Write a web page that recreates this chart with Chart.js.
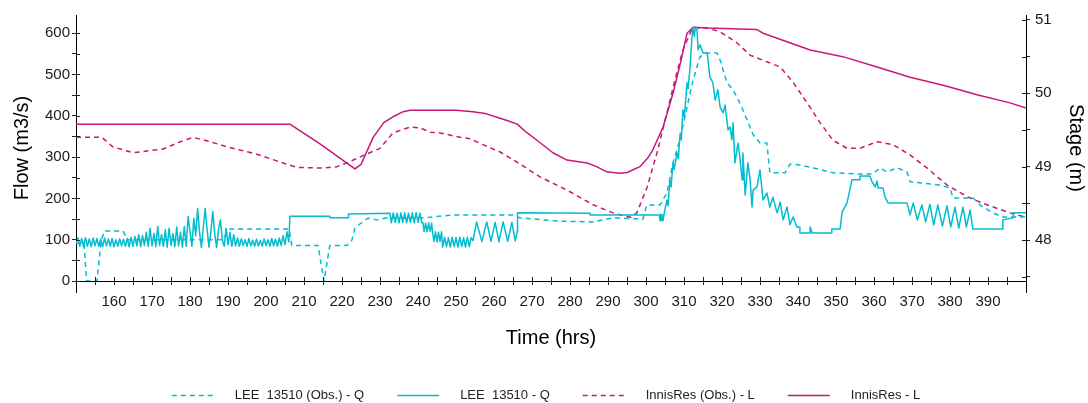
<!DOCTYPE html>
<html>
<head>
<meta charset="utf-8">
<script src="https://cdn.jsdelivr.net/npm/chart.js@4.4.1/dist/chart.umd.min.js"></script>
<style>
html,body{margin:0;padding:0;background:#fff;}
canvas{display:block;}
</style>
</head>
<body>
<canvas id="c" width="1088" height="403"></canvas>
<script>
// ---------- DATA ----------
const seriesNames = ['LEE  13510 (Obs.) - Q', 'LEE  13510 - Q', 'InnisRes (Obs.) - L', 'InnisRes - L'];

// LEE 13510 observed flow [time (hrs), flow (m3/s)]
const leeObsFlow = [
  [150,92],[152.1,92],[152.8,0],[155.5,0],[156.6,95],[157.4,121],[162.4,121],[163.5,100],[188.5,100],
  [190.5,126],[206.1,126],[206.8,86],[213.7,86],[214.7,30],[215.3,0],[215.8,30],[216.8,86],[221.3,86],
  [222.6,99],[223.4,128],[224.7,138],[226.8,152],[229.2,148],[231.8,153],[241.3,153],[249.2,160],
  [265.0,160],[266.8,153],[276.6,145],[286.1,143],[291.3,153],[299.2,150],[300.2,184],[303.7,184],
  [305.5,213],[307.1,286],[308.9,341],[310.8,421],[312.4,487],[314.2,543],[316.1,552],[318.7,552],
  [319.5,535],[321.3,480],[322.9,463],[324.7,431],[326.6,390],[328.2,354],[330.0,334],[331.8,334],
  [332.6,262],[336.6,262],[337.9,283],[340.5,281],[343.9,274],[349.2,262],[356.3,259],[359.7,259],
  [361.6,274],[363.4,264],[366.1,274],[368.7,264],[369.5,240],[372.9,237],[377.4,232],[380.0,225],
  [380.8,201],[386.1,201],[387.9,184],[391.3,165],[393.9,155],[400,155]
];

// LEE 13510 simulated flow [time (hrs), flow (m3/s)]
const leeSimFlow = [
  [150,92],[150.5,104],[151,84],[151.5,103],[152,83],[152.5,105],[153,84],[153.5,102],[154,83],[154.5,104],
  [155,85],[155.5,103],[156,84],[156.5,101],[157,83],[157.5,104],[158,85],[158.5,102],[159,84],[159.5,103],
  [160,83],[160.5,100],[161,84],[161.5,102],[162,85],[162.5,101],[163,84],[163.5,103],[164,83],[164.5,106],
  [165,84],[165.5,108],[166,85],[166.5,112],[167,83],[167.5,110],[168,86],[168.5,118],[169,84],[169.5,128],
  [170,85],[170.5,115],[171,83],[171.5,132],[172,86],[172.5,112],[173,84],[173.5,124],[174,82],[174.5,128],
  [175,86],[175.5,115],[176,83],[176.5,131],[177,85],[177.5,118],[178,82],[178.5,132],[179,84],[179.5,156],
  [180,120],[180.5,84],[181,152],[181.5,110],[182,176],[182.5,120],[183,81],[183.5,130],[184,176],[184.5,125],
  [185,82],[185.5,120],[186,168],[186.5,115],[187,81],[187.5,125],[188,148],[188.5,100],[189,84],[189.5,128],
  [190,88],[190.5,118],[191,84],[191.5,112],[192,85],[192.5,104],[193,84],[193.5,102],[194,86],[194.5,100],
  [195,84],[195.5,103],[196,85],[196.5,99],[197,84],[197.5,101],[198,85],[198.5,98],[199,84],[199.5,102],
  [200,86],[200.5,100],[201,84],[201.5,103],[202,85],[202.5,101],[203,84],[203.5,104],[204,86],[204.5,110],
  [205,88],[205.5,119],[206,95],[206.3,157],[216.8,157],[216.8,153],[221.6,153],[221.7,162],[232.6,164],
  [233,141],[233.5,165],[234,142],[234.5,164],[235,141],[235.5,165],[236,142],[236.5,165],[237,141],[237.5,164],
  [238,142],[238.5,165],[239,141],[239.5,165],[240,142],[240.5,164],[241,141],
  [241.3,141],[241.6,120],[242,140],[242.4,119],[242.8,141],[243.2,120],[243.6,140],
  [243.8,119],[244.2,96],[244.6,119],[245,95],[245.4,118],[245.8,96],[246.2,119],
  [246.5,82],[247,106],[247.5,83],[248,105],[248.5,82],[249,106],[249.5,83],[250,105],[250.5,82],[251,106],
  [251.5,83],[252,105],[252.5,82],[253,106],[253.5,83],[254,105],
  [254.5,98],[255.4,143],[256.8,96],[258.1,143],[259.2,96],[260.3,142],[261.3,95],[262.4,143],[263.6,96],
  [264.7,142],[265.6,97],[266.1,120],[266.2,165],[285.3,164],[285.3,160],[303.5,160],
  [303.7,146],[303.9,162],[304.1,147],[304.3,160],[304.5,146],[304.8,165],
  [305.5,196],[305.8,182],[306.3,245],[306.6,228],[307.1,286],[307.4,270],[308.2,310],[308.5,296],[309,358],
  [309.3,342],[309.7,414],[310.1,398],[310.8,480],[311.1,466],[311.6,518],[312.1,591],[312.4,613],[312.7,592],
  [313,615],[313.4,613],[313.7,560],[314.2,572],[315,552],[316.1,552],[316.8,494],[317.6,480],[318.2,438],
  [318.9,463],[319.5,421],[320.3,407],[320.8,426],[321.6,366],[322.1,373],[322.6,342],[322.9,383],[323.4,286],
  [324.2,334],[324.7,300],[325.3,245],[325.5,310],[326.1,208],[326.8,286],[327.4,245],[327.9,179],[328.2,220],
  [329.2,228],[330,269],[330.8,196],[331.8,213],[332.6,179],[333.4,203],[334.5,165],[335.3,191],[336.1,148],
  [337.1,179],[337.9,136],[338.7,155],[339.7,131],[340.5,131],[340.5,116],[343.2,116],[343.2,131],[343.7,116],
  [348.9,116],[348.9,126],[351.1,126],[351.6,167],[352.9,189],[354.2,245],[356.3,245],[356.3,254],[358.9,254],
  [359.5,240],[360.3,228],[360.8,242],[361.1,225],[362.4,225],[362.9,203],[363.7,189],[368.7,189],
  [369.5,160],[370.3,189],[371.4,148],[372.6,184],[373.6,143],[374.7,186],[375.7,136],[376.8,184],[378,133],
  [379.2,182],[380.2,131],[381.3,179],[382.3,128],[383.4,179],[384.3,131],[385.3,172],[386,126],[387.1,126],
  [393.9,126],[393.9,148],[396.6,153],[396.6,165],[400,165]
];

// InnisRes observed level [time (hrs), stage (m)]
const innisObsLevel = [
  [150,49.40],[156.8,49.40],[159.7,49.27],[165.0,49.19],[172.9,49.24],[177.4,49.34],[180.8,49.40],[185.3,49.34],
  [190.5,49.26],[197.6,49.17],[204.5,49.05],[208.2,48.99],[215.0,48.98],[218.7,49.00],[222.1,49.07],[225.5,49.15],
  [230.0,49.25],[233.4,49.46],[237.9,49.54],[240.5,49.53],[243.2,49.47],[245.8,49.46],[251.1,49.40],[253.7,49.38],
  [257.1,49.30],[261.6,49.20],[266.1,49.06],[272.1,48.86],[279.2,48.68],[286.1,48.48],[291.3,48.37],[295.8,48.31],
  [297.6,48.37],[300.3,48.72],[302.9,49.19],[305.5,49.73],[307.6,50.18],[309.7,50.59],[311.6,50.82],[312.4,50.89],
  [316.1,50.89],[319.5,50.84],[323.9,50.69],[327.4,50.52],[331.8,50.43],[335.3,50.36],[338.7,50.15],[342.4,49.87],
  [345.8,49.60],[349.2,49.36],[352.9,49.25],[356.3,49.25],[360.8,49.34],[365.0,49.30],[369.5,49.16],[374.0,48.98],
  [379.2,48.75],[384.5,48.59],[389.7,48.48],[395.8,48.37],[400,48.31]
];

// InnisRes simulated level [time (hrs), stage (m)]
const innisSimLevel = [
  [150,49.58],[206.3,49.58],[214.5,49.30],[223.4,48.97],[225,49.03],[228.2,49.40],[231,49.60],[233.4,49.68],
  [236.1,49.75],[237.9,49.77],[242.4,49.77],[250,49.77],[254.5,49.75],[258,49.72],[261.6,49.66],[264,49.62],
  [266.1,49.58],[268.5,49.47],[271.3,49.36],[275.5,49.19],[279.2,49.09],[284.5,49.05],[287,49.00],[289.7,48.93],
  [293,48.91],[295,48.92],[298.4,49.00],[300.5,49.12],[301.8,49.23],[304.5,49.54],[307.1,50.00],[309,50.40],
  [310.8,50.82],[312.4,50.90],[316.1,50.89],[329.2,50.87],[330.8,50.82],[334.5,50.75],[343.2,50.59],[351.8,50.50],
  [360.8,50.36],[369.5,50.22],[378.2,50.11],[387.1,49.98],[395.8,49.87],[400,49.80]
];

// Axis ticks and labels
const timeTicks = [155,160,165,170,175,180,185,190,195,200,205,210,215,220,225,230,235,240,245,250,255,260,265,270,275,280,285,290,295,300,305,310,315,320,325,330,335,340,345,350,355,360,365,370,375,380,385,390,395];
const timeTickLabels = [160,170,180,190,200,210,220,230,240,250,260,270,280,290,300,310,320,330,340,350,360,370,380,390];
const flowTicks = [0,50,100,150,200,250,300,350,400,450,500,550,600];
const flowTickLabels = [0,100,200,300,400,500,600];
const stageTicks = [47.5,48,48.5,49,49.5,50,50.5,51];
const stageTickLabels = [48,49,50,51];

// ---------- STYLE ----------
const CYAN = '#00BDD0';
const PINK = '#C8177A';
const FONT = "'Liberation Sans', Arial, sans-serif";

const toXY = arr => arr.map(p => ({x: p[0], y: p[1]}));

const crossTicks = {
  id: 'crossTicks',
  afterDraw(chart) {
    const ctx = chart.ctx;
    const a = chart.chartArea;
    ctx.save();
    ctx.strokeStyle = '#222';
    ctx.lineWidth = 1;
    ctx.beginPath();
    const sx = chart.scales.x;
    sx.ticks.forEach(t => {
      const p = Math.round(sx.getPixelForValue(t.value)) + 0.5;
      ctx.moveTo(p, a.bottom); ctx.lineTo(p, a.bottom - 4);
    });
    const sy = chart.scales.y;
    sy.ticks.forEach(t => {
      const p = Math.round(sy.getPixelForValue(t.value)) + 0.5;
      ctx.moveTo(a.left, p); ctx.lineTo(a.left + 4, p);
    });
    const sy1 = chart.scales.y1;
    sy1.ticks.forEach(t => {
      const p = Math.round(sy1.getPixelForValue(t.value)) + 0.5;
      ctx.moveTo(a.right - 4, p); ctx.lineTo(a.right, p);
    });
    ctx.stroke();
    ctx.strokeStyle = '#000';
    ctx.beginPath();
    ctx.moveTo(Math.round(a.left) + 0.5, a.bottom); ctx.lineTo(Math.round(a.left) + 0.5, a.bottom + 12);
    ctx.moveTo(Math.round(a.right) + 0.5, a.bottom); ctx.lineTo(Math.round(a.right) + 0.5, a.bottom + 12);
    ctx.stroke();
    ctx.restore();
  }
};

const lineLegend = {
  id: 'lineLegend',
  afterDraw(chart) {
    const ctx = chart.ctx;
    ctx.save();
    ctx.font = '13px ' + FONT;
    const sample = 42, gapText = 21, gapItem = 33;
    const ds = chart.data.datasets;
    const widths = ds.map(d => ctx.measureText(d.label).width);
    let total = 0;
    widths.forEach((w, i) => { total += sample + gapText + w + (i < ds.length - 1 ? gapItem : 0); });
    let x = 546 - total / 2;
    const y = 395;
    ds.forEach((d, i) => {
      ctx.strokeStyle = d.borderColor;
      ctx.lineWidth = 1.5;
      ctx.setLineDash(d.borderDash || []);
      ctx.beginPath();
      ctx.moveTo(x, y + 0.5); ctx.lineTo(x + sample, y + 0.5);
      ctx.stroke();
      ctx.setLineDash([]);
      ctx.fillStyle = '#222';
      ctx.textBaseline = 'middle';
      ctx.textAlign = 'left';
      ctx.fillText(d.label, x + sample + gapText, y);
      x += sample + gapText + widths[i] + gapItem;
    });
    ctx.restore();
  }
};

const common = {pointRadius: 0, pointHoverRadius: 0, borderWidth: 1.5, tension: 0, fill: false, borderJoinStyle: 'round'};

new Chart(document.getElementById('c'), {
  type: 'line',
  data: {
    datasets: [
      Object.assign({label: seriesNames[0], data: toXY(leeObsFlow), borderColor: CYAN, borderDash: [5, 4], yAxisID: 'y'}, common),
      Object.assign({label: seriesNames[1], data: toXY(leeSimFlow), borderColor: CYAN, yAxisID: 'y'}, common),
      Object.assign({label: seriesNames[2], data: toXY(innisObsLevel), borderColor: PINK, borderDash: [5, 4], yAxisID: 'y1'}, common),
      Object.assign({label: seriesNames[3], data: toXY(innisSimLevel), borderColor: PINK, yAxisID: 'y1'}, common)
    ]
  },
  options: {
    responsive: false,
    animation: false,
    devicePixelRatio: 1,
    layout: {padding: {top: 15, left: 0, right: 0, bottom: 0}},
    plugins: {legend: {display: false}, tooltip: {enabled: false}},
    scales: {
      x: {
        type: 'linear', min: 150, max: 400,
        afterBuildTicks: s => { s.ticks = timeTicks.map(v => ({value: v})); },
        afterFit: s => { s.height = 122; },
        ticks: {autoSkip: false, maxRotation: 0, minRotation: 0, padding: 8,
          color: '#1a1a1a', font: {family: FONT, size: 15},
          callback: v => timeTickLabels.includes(v) ? String(v) : ''},
        grid: {display: true, drawOnChartArea: false, drawTicks: true, tickLength: 4, tickColor: '#222'},
        border: {display: true, color: '#000', width: 1},
        title: {display: true, text: 'Time (hrs)', color: '#000', font: {family: FONT, size: 20}, padding: {top: 0, bottom: 53}}
      },
      y: {
        type: 'linear', position: 'left', min: 0, max: 644,
        afterBuildTicks: s => { s.ticks = flowTicks.map(v => ({value: v})); },
        afterFit: s => { s.width = 76; },
        ticks: {autoSkip: false, padding: 2, color: '#1a1a1a', font: {family: FONT, size: 15},
          callback: v => flowTickLabels.includes(v) ? String(v) : ''},
        grid: {display: true, drawOnChartArea: false, drawTicks: true, tickLength: 4, tickColor: '#222'},
        border: {display: true, color: '#000', width: 1},
        title: {display: true, text: 'Flow (m3/s)', color: '#000', font: {family: FONT, size: 20}, padding: {top: 10, bottom: 0}}
      },
      y1: {
        type: 'linear', position: 'right', min: 47.441, max: 51.068,
        afterBuildTicks: s => { s.ticks = stageTicks.map(v => ({value: v})); },
        afterFit: s => { s.width = 62; },
        ticks: {autoSkip: false, padding: 5, color: '#1a1a1a', font: {family: FONT, size: 15},
          callback: v => stageTickLabels.includes(v) ? String(v) : ''},
        grid: {display: true, drawOnChartArea: false, drawTicks: true, tickLength: 4, tickColor: '#222'},
        border: {display: true, color: '#000', width: 1},
        title: {display: true, text: 'Stage (m)', color: '#000', font: {family: FONT, size: 20}, padding: {top: 0, bottom: 0}}
      }
    }
  },
  plugins: [crossTicks, lineLegend]
});
</script>
</body>
</html>
